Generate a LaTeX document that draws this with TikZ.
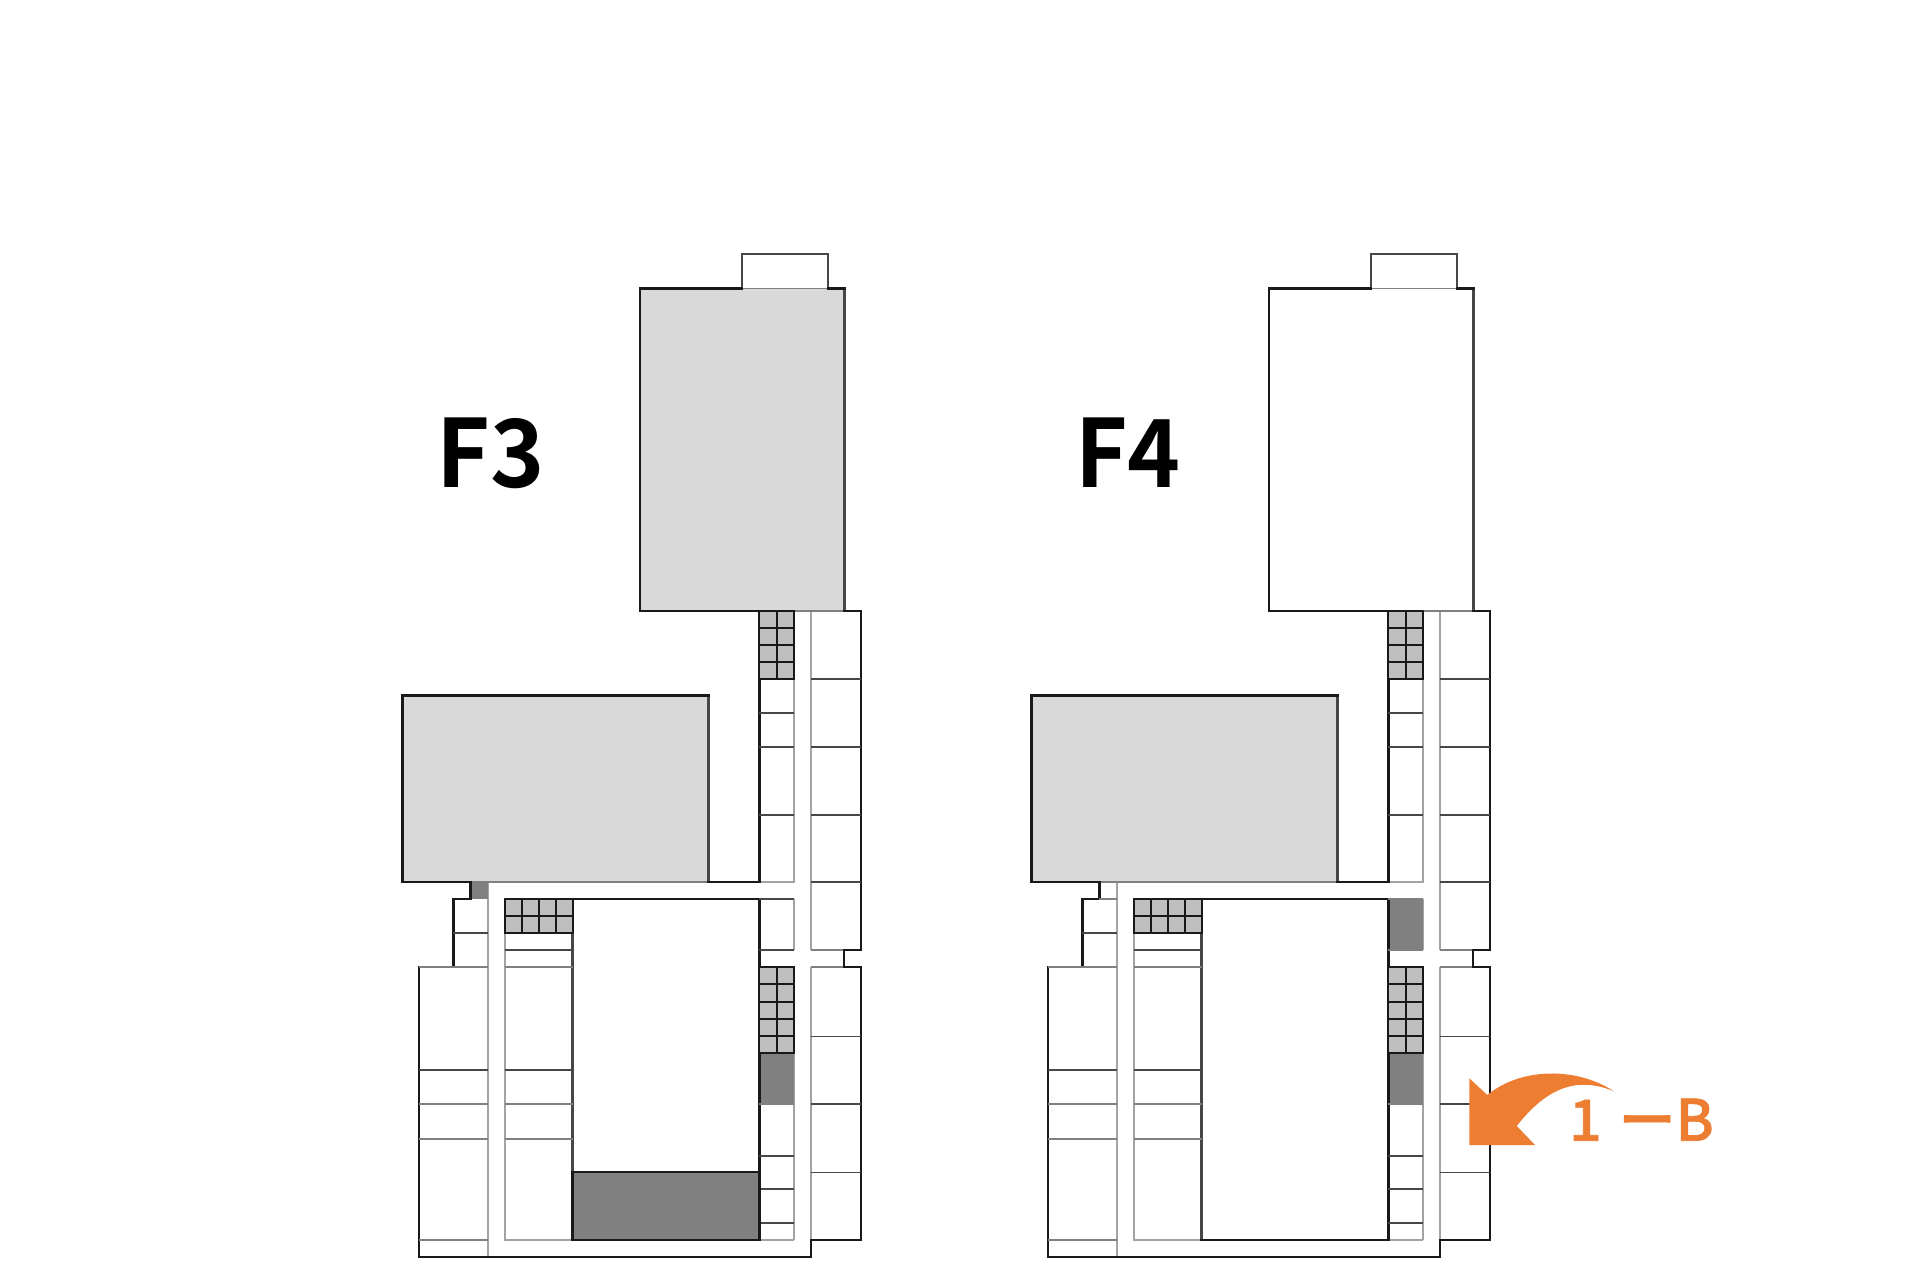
\documentclass[tikz,border=0pt]{standalone}
\usepackage{fontspec}
\newfontfamily\jpfont[BoldFont={Noto Sans CJK JP Bold},FakeStretch=0.955]{Noto Sans CJK JP}
\newfontfamily\jpwide[BoldFont={Noto Sans CJK JP Bold},FakeStretch=0.98]{Noto Sans CJK JP}
\newfontfamily\jpmedium[FakeBold=1.1]{Noto Sans CJK JP Medium}
\definecolor{lightfill}{HTML}{D9D9D9}
\definecolor{gridfill}{HTML}{BFBFBF}
\definecolor{darkfill}{HTML}{808080}
\definecolor{accent}{HTML}{ED7D31}
\tikzset{
  wall/.style={draw=black!90,line width=2.4pt,line join=miter,line cap=rect},
  softwall/.style={draw=black!72,line width=2.4pt,line cap=rect},
  divider/.style={draw=black!72,line width=1.6pt},
  faint/.style={draw=black!50,line width=1.5pt},
  edge/.style={draw=black!36,line width=2.3pt},
  gridline/.style={draw=black!90,line width=2pt},
  bigtext/.style={anchor=base west,inner sep=0pt,font=\jpfont\bfseries\fontsize{94}{94}\selectfont},
}
\newcommand{\floorplan}[1]{%
  % fills
  \fill[#1] (640,288.3) rectangle (844.3,610.8);
  \fill[lightfill] (402.3,695.3) rectangle (708.5,882);
  % corridor edges
  \draw[edge] (488,882) -- (488,1257);
  \draw[edge] (505,933) -- (505,1240) -- (793.7,1240);
  \draw[edge] (793.7,610.8) -- (793.7,882) -- (759.3,882);
  \draw[edge] (793.7,899) -- (793.7,950);
  \draw[edge] (793.7,967) -- (793.7,1240);
  \draw[edge] (810.7,610.8) -- (810.7,950);
  \draw[edge] (810.7,967) -- (810.7,1240);
  \draw[faint] (793.7,610.8) -- (844.3,610.8);
  \draw[faint] (470.3,882) -- (708.5,882);
  \draw[faint] (810.7,950) -- (844,950);
  \draw[faint] (810.7,967) -- (844,967);
  \draw[faint] (741.7,288.3) -- (827.7,288.3);
  % top block
  \draw[softwall] (741.7,288.3) -- (741.7,254) -- (827.7,254) -- (827.7,288.3);
  \draw[softwall] (844.3,288.3) -- (844.3,610.8);
  \draw[wall] (741.7,288.3) -- (640,288.3) -- (640,610.8) -- (793.7,610.8);
  \draw[wall] (827.7,288.3) -- (844.3,288.3);
  % large room
  \draw[softwall] (708.5,695.3) -- (708.5,882);
  \draw[wall] (470.3,882) -- (402.3,882) -- (402.3,695.3) -- (708.5,695.3);
  \draw[wall] (708.5,882) -- (759.3,882) -- (759.3,610.8);
  % building outline
  \draw[wall] (470.3,882) -- (470.3,899) -- (453.3,899) -- (453.3,967) -- (419,967)
    -- (419,1257) -- (810.7,1257) -- (810.7,1240) -- (861,1240) -- (861,967)
    -- (844,967) -- (844,950) -- (861,950) -- (861,610.8) -- (844.3,610.8);
  % inner court
  \draw[wall] (505,899) -- (759.3,899) -- (759.3,1240);
  \draw[softwall] (572.5,899) -- (572.5,1240);
  % dividers
  \foreach \y in {967,1104,1139,1240} \draw[faint] (419,\y) -- (488,\y);
  \draw[divider] (419,1070) -- (488,1070);
  \draw[divider] (453.3,933) -- (488,933);
  \draw[faint] (453.3,967) -- (488,967);
  \draw[divider] (505,950) -- (572.5,950);
  \draw[divider] (505,1070) -- (572.5,1070);
  \foreach \y in {967,1104,1139} \draw[faint] (505,\y) -- (572.5,\y);
  \foreach \y in {713,747,815,1156,1189,1223} \draw[divider] (759.3,\y) -- (793.7,\y);
  \foreach \y in {679,747,815,882,1036.5,1104,1172.5} \draw[divider] (810.7,\y) -- (861,\y);
  % stair grids
  \filldraw[fill=gridfill,gridline] (505,899) rectangle (572.5,933);
  \draw[gridline] (505,916) -- (572.5,916);
  \foreach \x in {522,539,556} \draw[gridline] (\x,899) -- (\x,933);
  \filldraw[fill=gridfill,gridline] (759.3,610.8) rectangle (793.7,679);
  \draw[gridline] (776.7,610.8) -- (776.7,679);
  \foreach \y in {628,645,662} \draw[gridline] (759.3,\y) -- (793.7,\y);
  \filldraw[fill=gridfill,gridline] (759.3,967) rectangle (793.7,1053);
  \draw[gridline] (776.7,967) -- (776.7,1053);
  \foreach \y in {984,1002,1019,1036} \draw[gridline] (759.3,\y) -- (793.7,\y);
  % lift
  \fill[darkfill] (759.3,1053) rectangle (793.7,1104);
  \draw[wall] (759.3,1053) -- (793.7,1053);
  \draw[wall] (759.3,1053) -- (759.3,1104);
  \draw[faint] (759.3,1104) -- (793.7,1104);
}
\begin{document}
\begin{tikzpicture}[x=1pt,y=-1pt]
  \useasboundingbox (0,0) rectangle (1920,1280);
  \fill[white] (0,0) rectangle (1920,1280);
  % F3
  \floorplan{lightfill}
  \fill[darkfill] (470.3,882) rectangle (488,899);
  \draw[wall] (470.3,882) -- (470.3,899);
  \draw[divider] (759.3,899) -- (793.7,899);
  \draw[divider] (759.3,950) -- (793.7,950);
  \filldraw[fill=darkfill,wall] (572.5,1172) rectangle (759.3,1240);
  \node[bigtext,font=\jpwide\bfseries\fontsize{94}{94}\selectfont] (labelthree) at (436,487) {F3};
  % F4
  \begin{scope}[xshift=629pt]
    \floorplan{white}
    \draw[faint] (470.3,899) -- (488,899);
    \fill[darkfill] (759.3,899) rectangle (793.7,950);
    \draw[wall] (759.3,899) -- (759.3,950);
    \draw[faint] (759.3,899) -- (793.7,899);
    \draw[faint] (759.3,950) -- (793.7,950);
    \draw[wall] (572.5,1240) -- (759.3,1240);
  \end{scope}
  \node[bigtext] (labelfour) at (1075,487) {F4};
  % arrow
  \fill[accent] (1469.3,1078.3) -- (1487.3,1095)
    .. controls (1520,1068) and (1575,1066) .. (1614,1091.3)
    .. controls (1575,1075) and (1545,1090) .. (1516.7,1126)
    -- (1535,1145) -- (1469.3,1145) -- cycle;
  \node[anchor=base west,inner sep=0pt,text=accent,font=\jpmedium\fontsize{57}{57}\selectfont] (labelroute) at (1569,1140.7) {1\hspace{17pt}ーB};
\end{tikzpicture}
\end{document}
